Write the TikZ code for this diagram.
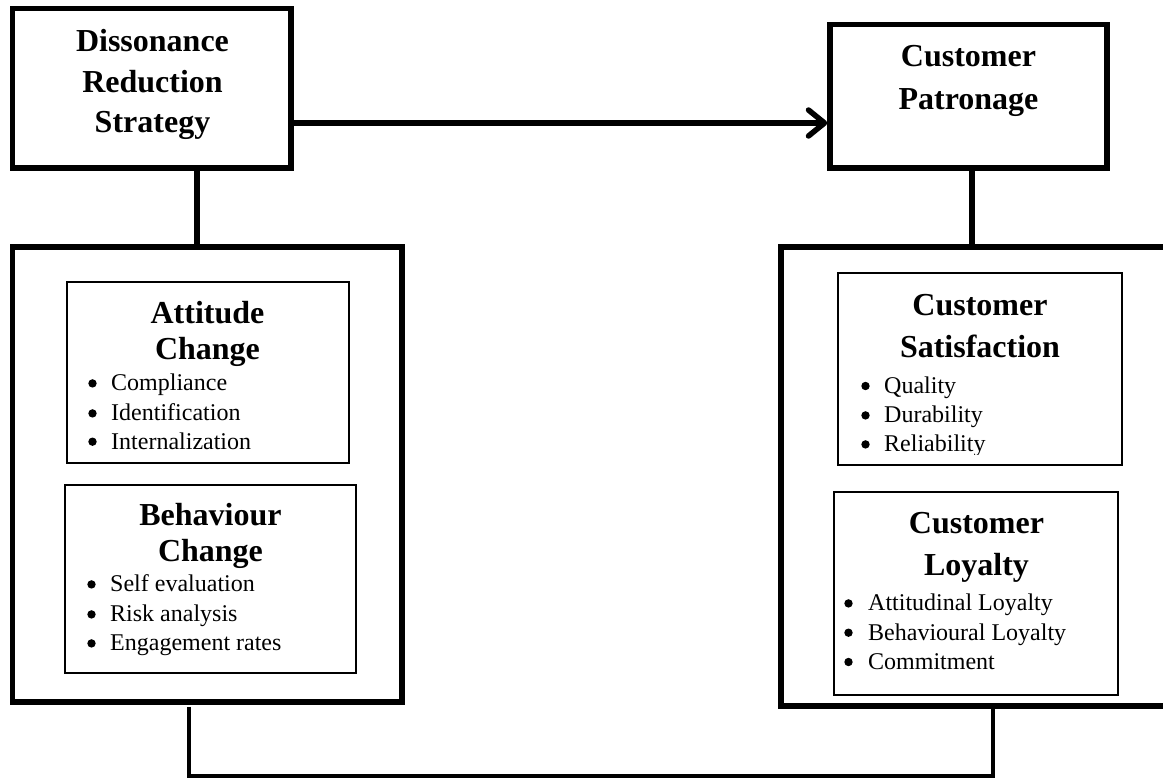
\documentclass[tikz,border=0pt]{standalone}
\usepackage{fontspec}
\setmainfont{Liberation Serif}
\usetikzlibrary{arrows.meta}

\begin{document}
\begin{tikzpicture}[x=1pt, y=-1pt,
  heavy/.style={draw, line width=5.5pt, inner sep=0pt},
  light/.style={draw, line width=1.5pt, inner sep=0pt},
  link/.style={line width=5.5pt},
  ttl/.style={font=\fontsize{32}{36}\selectfont\bfseries, anchor=base, inner sep=0pt},
  itm/.style={font=\fontsize{24}{28}\selectfont, anchor=base west, inner sep=0pt},
]
\useasboundingbox (0,0) rectangle (1163,781);

% main blocks
\node[heavy, minimum width=278.5pt, minimum height=159.5pt] (drs) at (151.75,88.25) {};
\node[heavy, minimum width=277pt,   minimum height=143.5pt] (cp)  at (968.5,96.25) {};
\node[heavy, minimum width=389.5pt, minimum height=455pt]   (lft) at (207.25,474.5) {};
\node[heavy, minimum width=389pt,   minimum height=459pt]   (rgt) at (975.5,476.5) {};

% inner boxes
\node[light, minimum width=282pt, minimum height=181pt] (att) at (208,372.5) {};
\node[light, minimum width=291pt, minimum height=188pt] (beh) at (210.5,579) {};
\node[light, minimum width=284pt, minimum height=192pt] (sat) at (980,369) {};
\node[light, minimum width=284pt, minimum height=203pt] (loy) at (976,593.5) {};

% block titles
\node[ttl] (drsA) at (152.5,52)  {Dissonance};
\node[ttl] (drsB) at (152.5,93)  {Reduction};
\node[ttl] (drsC) at (152.5,133) {Strategy};
\node[ttl] (cpA)  at (968.5,67)  {Customer};
\node[ttl] (cpB)  at (968.5,110) {Patronage};

% attitude change
\node[ttl] (attA) at (207.5,323.3) {Attitude};
\node[ttl] (attB) at (207.5,359.3) {Change};
\node[itm] (att1) at (111,390.7) {Compliance};
\node[itm] (att2) at (111,420.7) {Identification};
\node[itm] (att3) at (111,449)   {Internalization};

% behaviour change
\node[ttl] (behA) at (210.5,525)   {Behaviour};
\node[ttl] (behB) at (210.5,561.7) {Change};
\node[itm] (beh1) at (110,591.7) {Self evaluation};
\node[itm] (beh2) at (110,621.7) {Risk analysis};
\node[itm] (beh3) at (110,650.7) {Engagement rates};

% customer satisfaction
\node[ttl] (satA) at (980,315)   {Customer};
\node[ttl] (satB) at (980,357.3) {Satisfaction};
\node[itm] (sat1) at (884,393.3) {Quality};
\node[itm] (sat2) at (884,422.7) {Durability};
\begin{scope}
  \clip (sat.north west) rectangle ([yshift=11pt]sat.south east);
  \node[itm] (sat3) at (884,451.7) {Reliability};
\end{scope}

% customer loyalty
\node[ttl] (loyA) at (976.5,533.3) {Customer};
\node[ttl] (loyB) at (976.5,575)   {Loyalty};
\node[itm] (loy1) at (868,610.7) {Attitudinal Loyalty};
\node[itm] (loy2) at (868,640)   {Behavioural Loyalty};
\node[itm] (loy3) at (868,669.3) {Commitment};

% list bullets
\foreach \n in {att1,att2,att3,beh1,beh2,beh3,sat1,sat2,sat3}
  \fill ([xshift=-18.5pt, yshift=7.3pt]\n.base west) circle (4.2pt);
\foreach \n in {loy1,loy2,loy3}
  \fill ([xshift=-19.5pt, yshift=7.3pt]\n.base west) circle (4.2pt);

% connectors
\coordinate (ay) at (0,123);
\draw[link, -{Straight Barb[length=16pt, width=26pt, round]}]
  (drs.east |- ay) -- (cp.west |- ay);

\coordinate (dl) at ([xshift=45.25pt]drs.south);
\draw[link] (dl) -- (dl |- lft.north);
\coordinate (cr) at ([xshift=3.5pt]cp.south);
\draw[link] (cr) -- (cr |- rgt.north);

\coordinate (by) at (0,776);
\coordinate (bl) at ([xshift=-18.25pt, yshift=-2pt]lft.south);
\coordinate (br) at ([xshift=17.5pt]rgt.south);
\draw[link, line width=4.5pt] (bl) -- (bl |- by) -- (br |- by) -- (br);
\end{tikzpicture}
\end{document}
